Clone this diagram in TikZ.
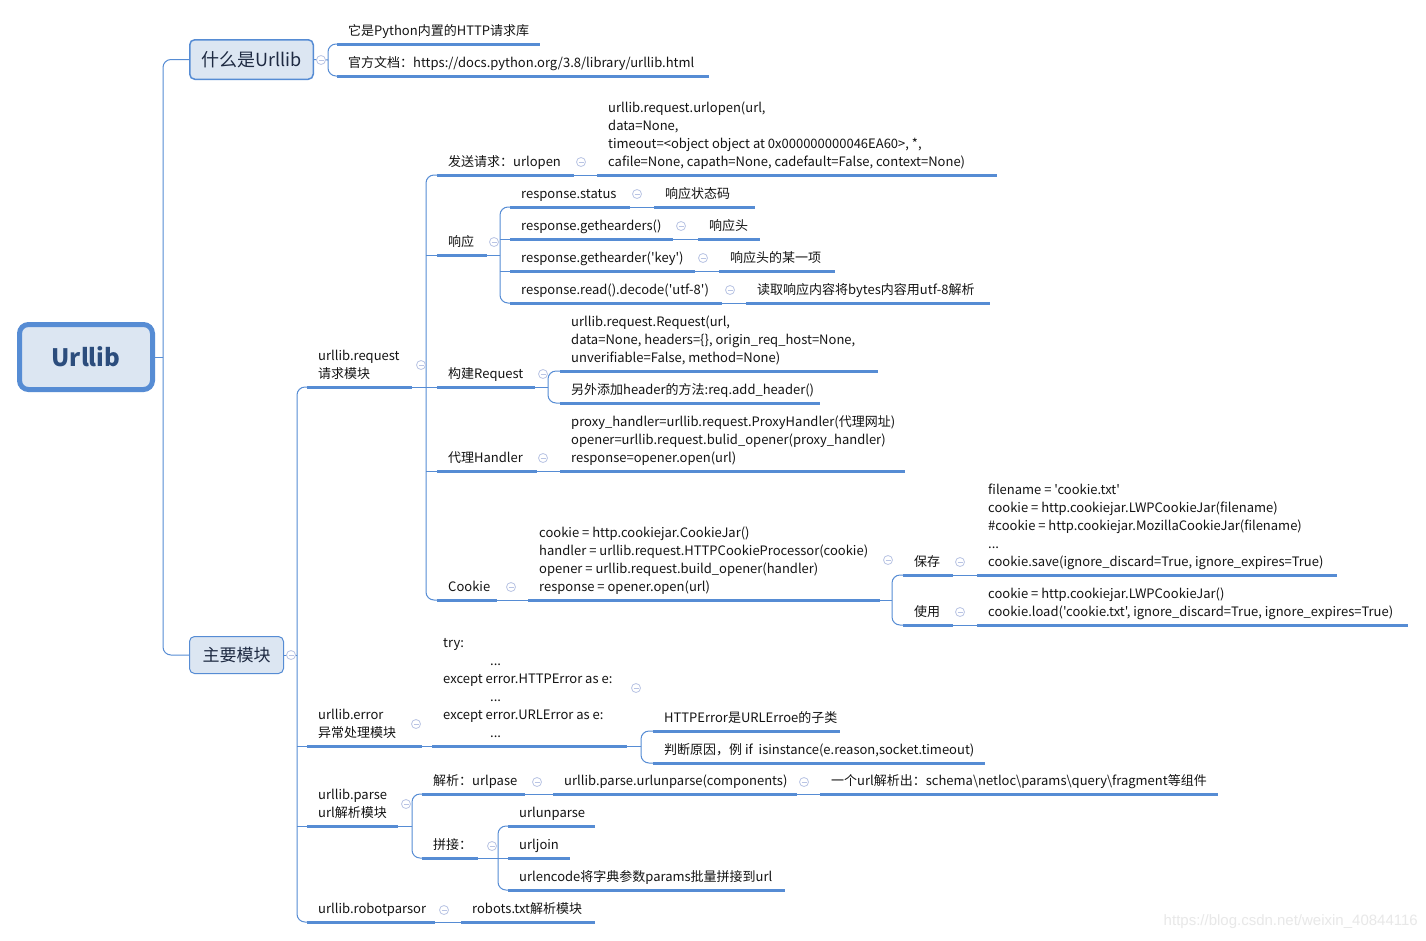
\documentclass[tikz,border=0pt]{standalone}
\usepackage{fontspec}
\setmainfont{Noto Sans CJK SC}[Ligatures=TeXOff]
\newfontfamily\wmfont{Liberation Sans}
\definecolor{ln}{RGB}{86,140,212}
\definecolor{bx}{RGB}{220,230,242}
\definecolor{btc}{RGB}{185,196,228}
\definecolor{rt}{RGB}{44,77,125}
\definecolor{tx}{RGB}{20,20,20}
\definecolor{bt}{RGB}{30,42,66}
\tikzset{
  uline/.style={draw=ln, line width=3pt},
  conn/.style={draw=ln, line width=1pt},
  rc/.style={conn, rounded corners=8pt},
  topic/.style={anchor=south west, inner sep=0pt, align=left,
    font=\fontsize{13}{18}\selectfont, text=tx, execute at end node=\strut},
  btnst/.style={draw=btc, line width=0.8pt, fill=white},
  rootst/.style={draw=ln, line width=5pt, fill=bx, rounded corners=9pt,
    minimum width=133pt, minimum height=65pt, inner sep=0pt,
    font=\fontsize{24}{28}\selectfont\bfseries, text=rt},
  boxst/.style={draw=ln, fill=bx, rounded corners=5pt, inner sep=0pt, text=bt}
}
\newcommand\topic[5]{%
  \coordinate (#1-l) at (#2,#4);
  \coordinate (#1-r) at (#3,#4);
  \draw[uline] (#1-l) -- (#1-r);
  \node[topic] (#1) at (#2+11,#4-2.6) {#5};}
\newcommand\btn[2]{\draw[btnst] (#1,#2) circle (4.5pt); \draw[btnst] (#1-2.5,#2) -- (#1+2.5,#2);}
\begin{document}
\begin{tikzpicture}[x=1pt,y=-1pt]
\useasboundingbox (0,0) rectangle (1426,940);
\fill[white] (0,0) rectangle (1426,940);

% boxes
\node[rootst] (root) at (86,357) {Urllib};
\node[boxst, line width=1.5pt, minimum width=123.5pt, minimum height=39.5pt,
  font=\fontsize{18}{22}\selectfont] (wi) at (251.5,59.5) {什么是Urllib};
\node[boxst, line width=1pt, minimum width=94pt, minimum height=37pt,
  font=\fontsize{17}{21}\selectfont] (mn) at (236.5,655) {主要模块};

% topics
\topic{t1}{337}{540}{44}{它是Python内置的HTTP请求库}
\topic{t2}{337}{709}{76}{官方文档：https://docs.python.org/3.8/library/urllib.html}

\topic{req}{307}{412}{387}{urllib.request\\请求模块}
\topic{err}{307}{422}{746}{urllib.error\\异常处理模块}
\topic{prs}{307}{398}{826}{urllib.parse\\url解析模块}
\topic{rob}{307}{435}{922}{urllib.robotparsor}

\topic{snd}{437}{574}{175}{发送请求：urlopen}
\topic{sndc}{597}{997}{175}{urllib.request.urlopen(url,\\data=None,\\timeout=<object object at 0x000000000046EA60>, *,\\cafile=None, capath=None, cadefault=False, context=None)}
\topic{rsp}{437}{487}{255}{响应}
\topic{rs1}{510}{630}{207}{response.status}
\topic{rs1c}{654}{755}{207}{响应状态码}
\topic{rs2}{510}{673}{239}{response.gethearders()}
\topic{rs2c}{698}{760}{239}{响应头}
\topic{rs3}{510}{695}{271}{response.gethearder('key')}
\topic{rs3c}{719}{835}{271}{响应头的某一项}
\topic{rs4}{510}{722}{303}{response.read().decode('utf-8')}
\topic{rs4c}{746}{990}{303}{读取响应内容将bytes内容用utf-8解析}
\topic{bld}{437}{535}{387}{构建Request}
\topic{bl1}{560}{878}{371}{urllib.request.Request(url,\\data=None, headers=\{\}, origin\_req\_host=None,\\unverifiable=False, method=None)}
\topic{bl2}{560}{820}{403}{另外添加header的方法:req.add\_header()}
\topic{prx}{437}{537}{471}{代理Handler}
\topic{prxc}{560}{905}{471}{proxy\_handler=urllib.request.ProxyHandler(代理网址)\\opener=urllib.request.bulid\_opener(proxy\_handler)\\response=opener.open(url)}
\topic{ck}{437}{497}{600}{Cookie}
\topic{ckc}{528}{880}{600}{cookie = http.cookiejar.CookieJar()\\handler = urllib.request.HTTPCookieProcessor(cookie)\\opener = urllib.request.build\_opener(handler)\\response = opener.open(url)}
\topic{sv}{903}{953}{575}{保存}
\topic{svc}{977}{1337}{575}{filename = 'cookie.txt'\\cookie = http.cookiejar.LWPCookieJar(filename)\\\#cookie = http.cookiejar.MozillaCookieJar(filename)\\...\\cookie.save(ignore\_discard=True, ignore\_expires=True)}
\topic{us}{903}{953}{625}{使用}
\topic{usc}{977}{1408}{625}{cookie = http.cookiejar.LWPCookieJar()\\cookie.load('cookie.txt', ignore\_discard=True, ignore\_expires=True)}

\topic{errc}{432}{627}{746}{try:\\\hspace*{47pt}...\\except error.HTTPError as e:\\\hspace*{47pt}...\\except error.URLError as e:\\\hspace*{47pt}...}
\topic{e1}{653}{840}{731}{HTTPError是URLErroe的子类}
\topic{e2}{653}{985}{763}{判断原因，例 if\ \ isinstance(e.reason,socket.timeout)}

\topic{p1}{422}{525}{794}{解析：urlpase}
\topic{p1c}{553}{797}{794}{urllib.parse.urlunparse(components)}
\topic{p1cc}{820}{1218}{794}{一个url解析出：schema\textbackslash netloc\textbackslash params\textbackslash query\textbackslash fragment等组件}
\topic{p2}{422}{478}{858}{拼接：}
\topic{p21}{508}{595}{826}{urlunparse}
\topic{p22}{508}{570}{858}{urljoin}
\topic{p23}{508}{785}{890}{urlencode将字典参数params批量拼接到url}
\topic{robc}{461}{595}{922}{robots.txt解析模块}

% connectors: root
\coordinate (rj) at (163,357);
\draw[conn] (root.east) -- (rj);
\draw[rc] (wi.west) -| (rj);
\draw[rc] (mn.west) -| (rj);
% wi
\coordinate (wj) at (328,60);
\draw[conn] (wi.east) -- (wj);
\draw[rc] (t1-l) -| (wj);
\draw[rc] (t2-l) -| (wj);
% main
\coordinate (mj) at (297,655);
\draw[conn] (mn.east) -- (mj);
\draw[rc] (req-l) -| (mj);
\draw[rc] (rob-l) -| (mj);
\draw[conn] (mj |- err-l) -- (err-l);
\draw[conn] (mj |- prs-l) -- (prs-l);
% request
\coordinate (rqj) at (426,387);
\draw[conn] (req-r) -- (bld-l);
\draw[rc] (snd-l) -| (rqj);
\draw[rc] (ck-l) -| (rqj);
\draw[conn] (rqj |- rsp-l) -- (rsp-l);
\draw[conn] (rqj |- prx-l) -- (prx-l);
\draw[conn] (snd-r) -- (sndc-l);
% response
\coordinate (rsj) at (500,255);
\draw[conn] (rsp-r) -- (rsj);
\draw[rc] (rs1-l) -| (rsj);
\draw[rc] (rs4-l) -| (rsj);
\draw[conn] (rsj |- rs2-l) -- (rs2-l);
\draw[conn] (rsj |- rs3-l) -- (rs3-l);
\draw[conn] (rs1-r) -- (rs1c-l);
\draw[conn] (rs2-r) -- (rs2c-l);
\draw[conn] (rs3-r) -- (rs3c-l);
\draw[conn] (rs4-r) -- (rs4c-l);
% build request
\coordinate (blj) at (548,387);
\draw[conn] (bld-r) -- (blj);
\draw[rc] (bl1-l) -| (blj);
\draw[rc] (bl2-l) -| (blj);
% proxy
\draw[conn] (prx-r) -- (prxc-l);
% cookie
\draw[conn] (ck-r) -- (ckc-l);
\coordinate (ckj) at (892,600);
\draw[conn] (ckc-r) -- (ckj);
\draw[rc] (sv-l) -| (ckj);
\draw[rc] (us-l) -| (ckj);
\draw[conn] (sv-r) -- (svc-l);
\draw[conn] (us-r) -- (usc-l);
% error
\draw[conn] (err-r) -- (errc-l);
\coordinate (erj) at (641,746);
\draw[conn] (errc-r) -- (erj);
\draw[rc] (e1-l) -| (erj);
\draw[rc] (e2-l) -| (erj);
% parse
\coordinate (psj) at (412,826);
\draw[conn] (prs-r) -- (psj);
\draw[rc] (p1-l) -| (psj);
\draw[rc] (p2-l) -| (psj);
\draw[conn] (p1-r) -- (p1c-l);
\draw[conn] (p1c-r) -- (p1cc-l);
\coordinate (p2j) at (498,858);
\draw[conn] (p2-r) -- (p22-l);
\draw[rc] (p21-l) -| (p2j);
\draw[rc] (p23-l) -| (p2j);
% robot
\draw[conn] (rob-r) -- (robc-l);

% collapse buttons
\btn{321}{60}
\btn{291}{655}
\btn{421}{365}
\btn{581}{162}
\btn{494}{242}
\btn{637}{194}
\btn{681}{226}
\btn{703}{258}
\btn{730}{290}
\btn{543}{374}
\btn{543}{458}
\btn{511}{587}
\btn{888}{560}
\btn{960}{562}
\btn{960}{612}
\btn{416}{724}
\btn{636}{688}
\btn{406}{804}
\btn{537}{782}
\btn{804}{782}
\btn{492}{846}
\btn{444}{910}

% watermark
\node[anchor=east, inner sep=0pt, text=black!9, font=\wmfont\fontsize{15}{18}\selectfont] (wm) at (1418,922) {https://blog.csdn.net/weixin\_40844116};
\end{tikzpicture}
\end{document}
